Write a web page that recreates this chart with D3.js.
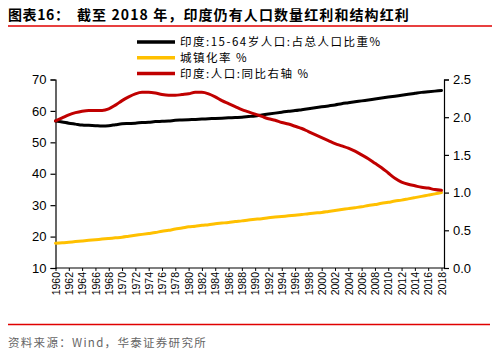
<!DOCTYPE html>
<html><head><meta charset="utf-8">
<script src="https://cdn.jsdelivr.net/npm/d3@7"></script>
<style>body{margin:0;background:#fff}svg{display:block}</style>
</head><body>
<svg id="c" width="493" height="353"></svg>
<script>
const years = d3.range(1960, 2019);
const workingAge = [56.8,56.5,56.1,55.8,55.5,55.4,55.3,55.2,55.3,55.6,55.9,56.0,56.1,56.3,56.4,56.6,56.7,56.8,57.0,57.1,57.2,57.3,57.4,57.5,57.6,57.7,57.8,57.9,58.0,58.2,58.4,58.7,59.0,59.3,59.6,59.9,60.1,60.4,60.7,61.0,61.3,61.6,61.9,62.3,62.6,62.9,63.2,63.5,63.8,64.1,64.4,64.7,65.0,65.3,65.6,65.9,66.1,66.3,66.5];
const urbanization = [17.9,18.0,18.2,18.4,18.6,18.8,19.0,19.2,19.4,19.6,19.8,20.1,20.4,20.7,21.0,21.3,21.7,22.0,22.4,22.7,23.1,23.3,23.6,23.8,24.1,24.3,24.5,24.8,25.0,25.3,25.5,25.7,26.0,26.2,26.4,26.6,26.8,27.0,27.3,27.5,27.7,28.0,28.3,28.6,28.9,29.2,29.5,29.9,30.2,30.6,30.9,31.3,31.6,32.0,32.4,32.8,33.2,33.6,34.0];
const popGrowth = [1.95,1.99,2.03,2.06,2.08,2.09,2.09,2.09,2.11,2.16,2.22,2.27,2.31,2.33,2.33,2.32,2.30,2.29,2.29,2.30,2.31,2.33,2.33,2.31,2.27,2.22,2.18,2.14,2.10,2.07,2.04,2.01,1.98,1.96,1.93,1.91,1.88,1.85,1.81,1.77,1.73,1.69,1.65,1.62,1.59,1.55,1.50,1.45,1.39,1.33,1.26,1.19,1.14,1.11,1.09,1.07,1.06,1.04,1.03];
const leftTicks = [10,20,30,40,50,60,70];
const rightTicks = [0,0.5,1,1.5,2,2.5];
const xTicks = d3.range(1960, 2019, 2);
const legendLabels = ["印度:15-64岁人口:占总人口比重%","城镇化率 %","印度:人口:同比右轴 %"];
const titleLead = "图表16：";
const titleText = "截至 2018 年，印度仍有人口数量红利和结构红利";
const sourceText = "资料来源：Wind，华泰证券研究所";

const svg = d3.select("#c");
const font = "Arial, 'Liberation Sans', 'Noto Sans CJK SC', sans-serif";
const cjk = "'Noto Sans CJK SC', Arial, sans-serif";
const colors = ["#000000","#FFC000","#C00000"];

// title
const tt = svg.append("text").attr("y",20).attr("font-family",cjk).attr("font-weight","bold")
  .attr("font-size",14).attr("fill","#000");
tt.append("tspan").attr("x",8).attr("letter-spacing",0.6).text(titleLead);
tt.append("tspan").attr("x",77).attr("letter-spacing",1.1).text(titleText);
svg.append("line").attr("x1",8).attr("x2",492).attr("y1",26).attr("y2",26).attr("stroke","#e00000").attr("stroke-width",1.5);
svg.append("line").attr("x1",8).attr("x2",490).attr("y1",324.5).attr("y2",324.5).attr("stroke","#e00000").attr("stroke-width",1.5);
svg.append("text").attr("x",8).attr("y",347).attr("font-family",cjk).attr("font-size",11.5)
  .attr("letter-spacing",1.3).attr("fill","#666").text(sourceText);

const x = d3.scaleLinear().domain([1960,2018]).range([55.5,441.5]);
const yL = d3.scaleLinear().domain([10,70]).range([268,79.5]);
const yR = d3.scaleLinear().domain([0,2.5]).range([268,79.5]);
const xLeft = 55.5, xRight = 444;

const gL = svg.append("g").attr("transform",`translate(${xLeft},0)`)
  .call(d3.axisLeft(yL).tickValues(leftTicks).tickSize(5).tickPadding(4).tickFormat(d3.format("d")));
const gR = svg.append("g").attr("transform",`translate(${xRight},0)`)
  .call(d3.axisRight(yR).tickValues(rightTicks).tickSize(5).tickPadding(4).tickFormat(d3.format(".1f")));
[gL,gR].forEach(g=>{
  g.selectAll("text").attr("font-family",font).attr("font-size",13).attr("fill","#000");
  g.selectAll("line,path").attr("stroke","#000").attr("stroke-width",1.2);
});
// bottom axis
const gB = svg.append("g").attr("transform","translate(0,268)")
  .call(d3.axisBottom(x).tickValues(xTicks).tickSize(3).tickFormat(d3.format("d")));
gB.select("path.domain").remove();
gB.append("line").attr("x1",xLeft).attr("x2",xRight).attr("y1",0).attr("y2",0).attr("stroke","#000").attr("stroke-width",1.2);
gB.selectAll("line").attr("stroke","#000");
gB.selectAll(".tick text").attr("font-family",font).attr("font-size",10.5).attr("fill","#000")
  .attr("transform","rotate(-90)").attr("text-anchor","end").attr("dy","0.35em").attr("x",-4).attr("y",0);

const series = [
  {vals: workingAge, y: yL, c: colors[0]},
  {vals: urbanization, y: yL, c: colors[1]},
  {vals: popGrowth, y: yR, c: colors[2]}
];
series.forEach(s=>{
  const line = d3.line().x((d,i)=>x(years[i])).y(d=>s.y(d)).curve(d3.curveMonotoneX);
  svg.append("path").datum(s.vals).attr("d",line).attr("fill","none")
    .attr("stroke",s.c).attr("stroke-width",3).attr("stroke-linecap","round");
});

// legend
legendLabels.forEach((t,i)=>{
  const yy = 42 + i*15.7;
  svg.append("line").attr("x1",137).attr("x2",175).attr("y1",yy).attr("y2",yy)
    .attr("stroke",colors[i]).attr("stroke-width",3.5);
  svg.append("text").attr("x",180).attr("y",yy).attr("dy","0.36em").attr("font-family",cjk)
    .attr("font-size",11.5).attr("letter-spacing",1.5).attr("fill","#000").text(t);
});
</script>
</body></html>
